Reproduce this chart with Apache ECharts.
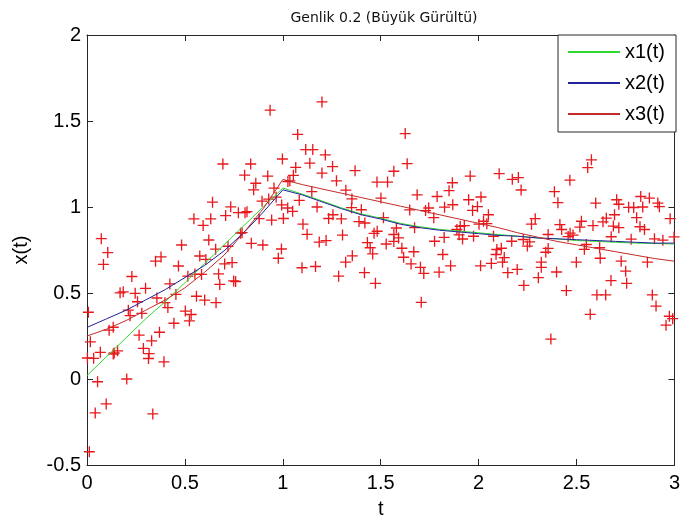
<!DOCTYPE html>
<html><head><meta charset="utf-8">
<script src="https://cdn.jsdelivr.net/npm/echarts@6/dist/echarts.min.js"></script>
<style>html,body{margin:0;padding:0;background:#fff}#c{width:683px;height:524px}</style>
</head><body><div id="c"></div>
<script>
const titleText = 'Genlik 0.2 (Büyük Gürültü)';
const xName = 't';
const yName = 'x(t)';
const seriesNames = ['x1(t)', 'x2(t)', 'x3(t)'];

const lineT = [0,0.1,0.2,0.3,0.4,0.5,0.6,0.7,0.8,0.9,1.0,1.1,1.2,1.3,1.4,1.5,1.6,1.7,1.8,1.9,2.0,2.1,2.2,2.3,2.4,2.5,2.6,2.7,2.8,2.9,3.0];
const x1 = [0.02,0.13,0.24,0.35,0.45,0.56,0.67,0.78,0.89,1.00,1.11,1.075,1.035,0.995,0.96,0.935,0.905,0.885,0.87,0.86,0.85,0.84,0.83,0.82,0.815,0.805,0.80,0.795,0.79,0.788,0.785];
const x2 = [0.30,0.35,0.40,0.46,0.52,0.59,0.66,0.745,0.85,0.97,1.10,1.07,1.03,0.99,0.955,0.93,0.90,0.88,0.865,0.855,0.845,0.835,0.83,0.82,0.815,0.81,0.805,0.80,0.795,0.79,0.79];
const x3 = [0.25,0.29,0.34,0.40,0.46,0.53,0.62,0.72,0.85,0.99,1.16,1.13,1.105,1.08,1.055,1.03,1.005,0.98,0.955,0.93,0.905,0.88,0.85,0.825,0.80,0.78,0.76,0.74,0.72,0.70,0.685];

const noisyT = [0.002,0.007,0.012,0.017,0.034,0.042,0.054,0.068,0.073,0.084,0.098,0.106,0.113,0.134,0.134,0.139,0.156,0.169,0.185,0.203,0.211,0.220,0.229,0.246,0.258,0.266,0.280,0.288,0.299,0.314,0.317,0.330,0.336,0.350,0.357,0.370,0.378,0.393,0.398,0.413,0.423,0.444,0.454,0.467,0.483,0.502,0.515,0.523,0.532,0.546,0.551,0.559,0.576,0.585,0.593,0.601,0.607,0.622,0.632,0.641,0.657,0.659,0.672,0.678,0.694,0.703,0.708,0.720,0.734,0.741,0.749,0.759,0.773,0.784,0.792,0.805,0.807,0.817,0.836,0.839,0.851,0.862,0.879,0.894,0.898,0.923,0.928,0.935,0.943,0.955,0.966,0.977,0.993,0.994,0.998,1.003,1.025,1.026,1.036,1.050,1.054,1.066,1.076,1.084,1.098,1.103,1.117,1.124,1.138,1.148,1.153,1.167,1.175,1.186,1.200,1.200,1.217,1.221,1.234,1.254,1.256,1.274,1.285,1.299,1.305,1.321,1.322,1.351,1.353,1.355,1.369,1.389,1.401,1.417,1.419,1.432,1.446,1.459,1.466,1.473,1.481,1.482,1.501,1.514,1.528,1.535,1.567,1.567,1.567,1.580,1.591,1.608,1.617,1.625,1.635,1.648,1.655,1.669,1.673,1.686,1.703,1.707,1.720,1.729,1.745,1.771,1.775,1.788,1.798,1.817,1.824,1.826,1.849,1.857,1.866,1.868,1.889,1.900,1.906,1.918,1.927,1.949,1.957,1.969,1.974,1.994,2.002,2.010,2.012,2.025,2.042,2.050,2.065,2.076,2.089,2.093,2.105,2.116,2.122,2.131,2.149,2.169,2.172,2.197,2.203,2.217,2.228,2.231,2.249,2.261,2.270,2.289,2.305,2.320,2.320,2.343,2.355,2.355,2.369,2.387,2.398,2.405,2.415,2.424,2.448,2.457,2.466,2.467,2.482,2.499,2.517,2.525,2.540,2.550,2.557,2.570,2.576,2.584,2.598,2.604,2.618,2.621,2.635,2.649,2.652,2.676,2.677,2.688,2.694,2.705,2.716,2.716,2.728,2.751,2.756,2.766,2.779,2.792,2.807,2.824,2.828,2.838,2.847,2.862,2.872,2.887,2.898,2.906,2.915,2.923,2.941,2.957,2.974,2.978,2.991,2.998];
const noisyX = [0.122,0.388,-0.423,0.216,0.120,-0.197,-0.016,0.155,0.816,0.666,-0.145,0.735,0.284,0.301,0.145,0.151,0.164,0.501,0.507,0.000,0.400,0.368,0.596,0.498,0.449,0.255,0.382,0.178,0.527,0.119,0.148,0.222,-0.203,0.685,0.471,0.272,0.710,0.100,0.444,0.415,0.553,0.324,0.492,0.657,0.779,0.395,0.598,0.338,0.375,0.931,0.610,0.481,0.715,0.608,0.893,0.459,0.695,0.808,0.931,1.028,0.755,0.444,0.611,0.550,1.250,0.669,0.950,0.772,1.001,0.677,0.570,0.567,0.967,0.848,0.851,1.185,0.967,0.973,1.250,0.789,1.100,1.138,0.932,1.034,0.779,1.180,1.046,1.563,0.924,1.110,1.057,0.702,0.756,1.012,1.279,0.933,0.994,1.148,1.152,0.975,1.184,1.230,1.422,1.039,0.647,0.900,1.334,0.841,1.255,1.089,1.334,0.654,1.000,0.796,1.611,1.197,1.303,0.805,0.933,1.235,0.955,1.152,0.598,0.931,0.837,0.679,1.098,0.996,1.047,0.716,1.211,0.915,0.984,0.618,0.907,0.793,0.763,0.727,0.847,0.556,1.145,0.859,1.052,0.938,0.785,1.145,0.800,1.208,0.840,0.878,0.820,0.760,0.708,1.427,1.252,0.983,0.669,0.740,0.880,1.071,0.649,0.446,0.614,0.979,0.994,0.938,0.801,1.061,0.621,0.724,0.823,0.999,1.095,0.658,1.141,1.013,0.869,0.838,0.888,0.814,0.892,1.042,1.180,0.980,0.830,1.002,0.900,0.658,1.058,0.917,0.903,0.955,0.672,0.830,0.724,0.753,1.194,0.760,0.679,0.706,0.618,0.801,1.161,0.637,1.171,1.099,0.811,0.544,0.773,0.797,0.900,0.932,0.589,0.679,0.649,0.737,0.759,0.840,0.232,1.089,0.622,1.025,0.898,0.869,0.514,0.828,1.156,0.848,0.837,0.679,0.883,0.917,0.754,0.782,1.229,0.376,1.274,0.892,1.023,0.489,0.763,0.702,0.914,0.489,0.935,0.572,0.827,0.889,0.955,1.042,0.880,1.016,0.685,0.627,0.556,0.998,0.813,0.997,0.938,0.885,1.061,1.000,0.869,0.679,1.052,0.489,0.815,0.424,1.023,1.002,0.807,0.313,0.365,0.932,0.351,0.826];

const font = 'Liberation Sans, Arial, sans-serif';
const axisCol = '#262626';
const zip = (a, b) => a.map((v, i) => [v, b[i]]);

function baseAxis(extra) {
  return Object.assign({
    type: 'value',
    splitLine: { show: false },
    axisLine: { show: true, onZero: false, lineStyle: { color: axisCol, width: 1 } },
    axisTick: { show: true, inside: true, length: 6, lineStyle: { color: axisCol, width: 1 } },
    axisLabel: { show: false }
  }, extra);
}

const chart = echarts.init(document.getElementById('c'), null, { renderer: 'canvas' });
chart.setOption({
  animation: false,
  backgroundColor: '#fff',
  title: {
    text: titleText, left: 379, top: 6, textAlign: 'center',
    textStyle: { fontSize: 14, fontWeight: 'normal', fontFamily: 'DejaVu Sans', color: '#111' }
  },
  grid: { left: 87, right: 6, top: 35, bottom: 57, containLabel: false },
  legend: {
    orient: 'vertical', left: 558, top: 35,
    itemWidth: 52, itemHeight: 2, itemGap: 11,
    padding: [7, 11, 8, 10],
    backgroundColor: '#fff', borderColor: axisCol, borderWidth: 1,
    icon: 'rect',
    textStyle: { fontSize: 20, fontFamily: font, color: '#000', lineHeight: 20 },
    data: seriesNames
  },
  xAxis: [
    baseAxis({
      min: 0, max: 3, interval: 0.5, position: 'bottom',
      axisLabel: { show: true, fontSize: 20, fontFamily: font, color: '#000', margin: 8 },
      name: xName, nameLocation: 'middle', nameGap: 34,
      nameTextStyle: { fontSize: 20, fontFamily: font, color: '#000' }
    }),
    baseAxis({ min: 0, max: 3, interval: 0.5, position: 'top' })
  ],
  yAxis: [
    baseAxis({
      min: -0.5, max: 2, interval: 0.5, position: 'left',
      axisLabel: { show: true, fontSize: 20, fontFamily: font, color: '#000', margin: 6 },
      name: yName, nameLocation: 'middle', nameGap: 56,
      nameTextStyle: { fontSize: 20, fontFamily: font, color: '#000' }
    }),
    baseAxis({ min: -0.5, max: 2, interval: 0.5, position: 'right' })
  ],
  series: [
    {
      name: 'noisy', type: 'scatter', xAxisIndex: 0, yAxisIndex: 0,
      symbol: 'path://M0,4.4H10V5.6H0Z M4.4,0H5.6V10H4.4Z', symbolSize: 11,
      itemStyle: { color: '#e8181c', opacity: 1 },
      data: zip(noisyT, noisyX), z: 2, silent: true
    },
    {
      name: seriesNames[0], type: 'line', showSymbol: false, symbol: 'none',
      lineStyle: { color: '#2fd82f', width: 1 }, itemStyle: { color: '#2fd82f' },
      data: zip(lineT, x1), z: 3
    },
    {
      name: seriesNames[1], type: 'line', showSymbol: false, symbol: 'none',
      lineStyle: { color: '#22229a', width: 1 }, itemStyle: { color: '#22229a' },
      data: zip(lineT, x2), z: 3
    },
    {
      name: seriesNames[2], type: 'line', showSymbol: false, symbol: 'none',
      lineStyle: { color: '#c42a2a', width: 1 }, itemStyle: { color: '#c42a2a' },
      data: zip(lineT, x3), z: 3
    }
  ]
});
</script>
</body></html>
